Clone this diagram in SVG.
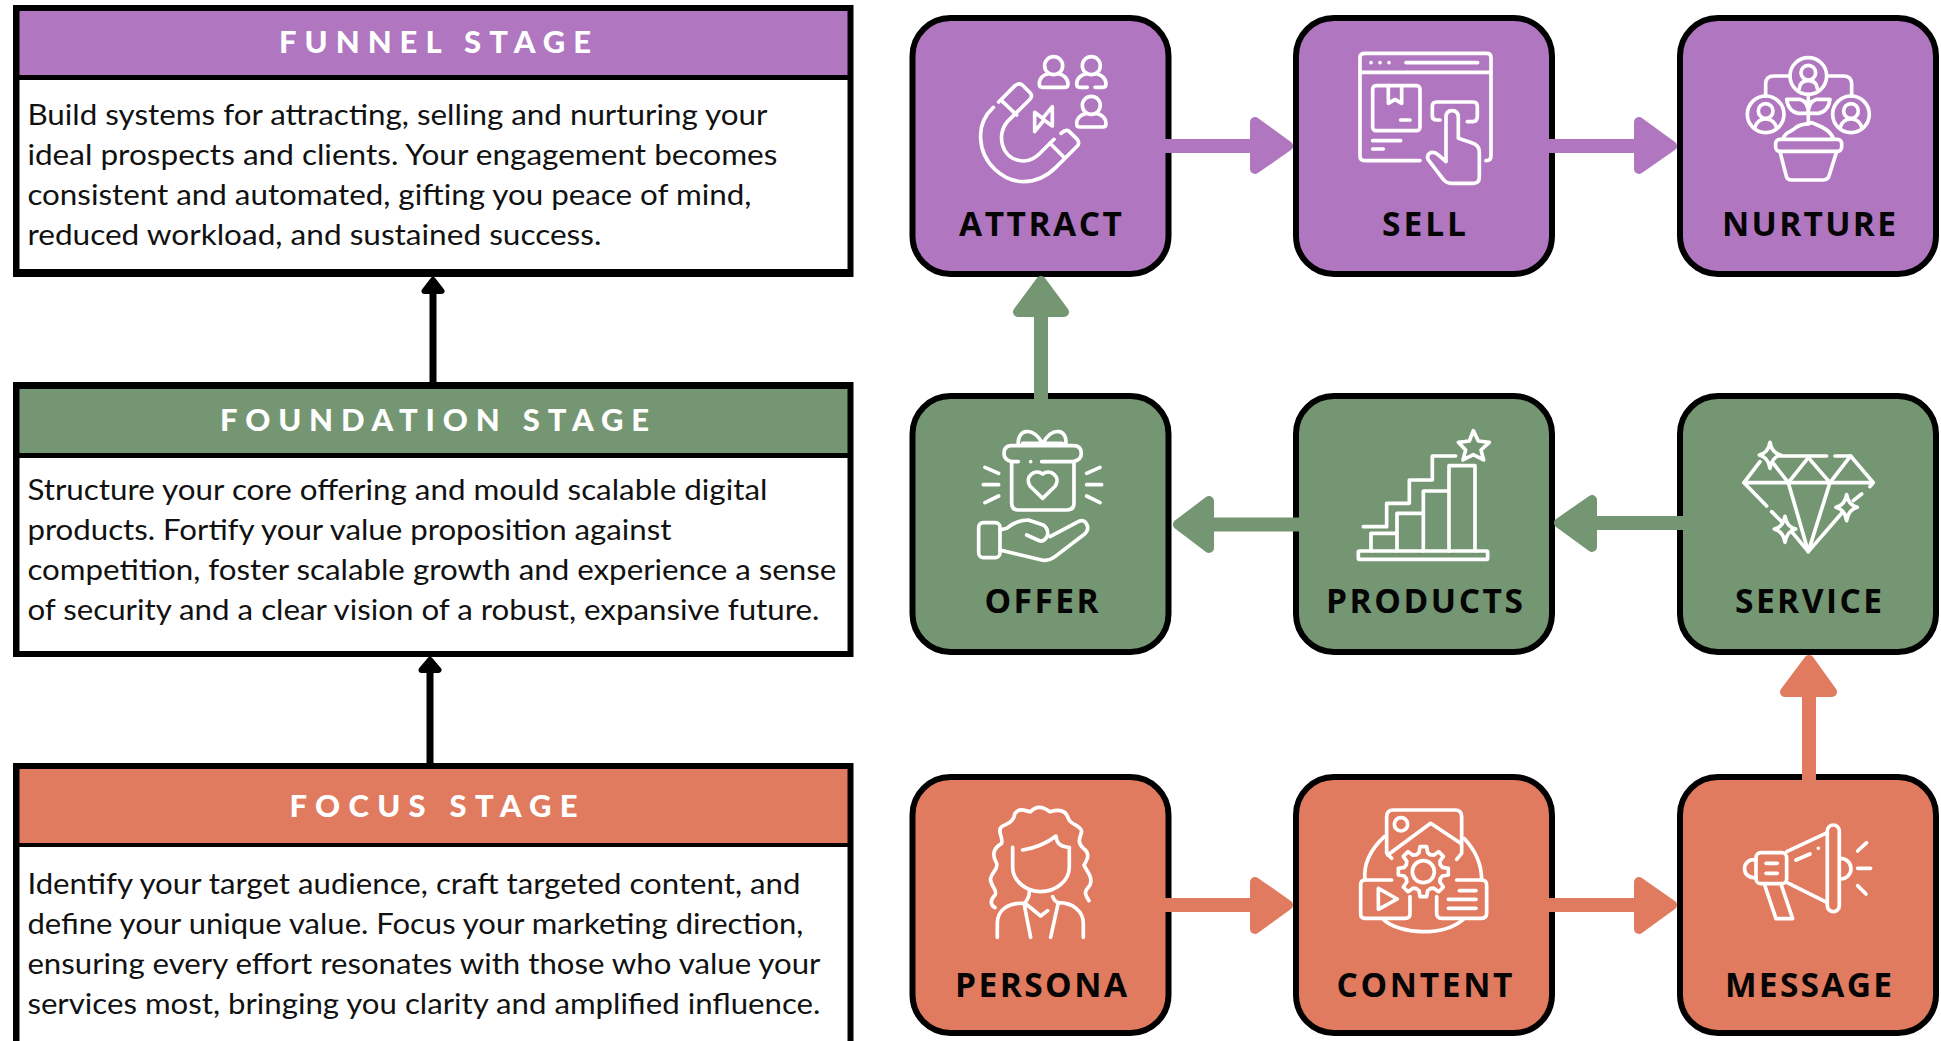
<svg xmlns="http://www.w3.org/2000/svg" xmlns:xlink="http://www.w3.org/1999/xlink" width="1941" height="1041" viewBox="0 0 1941 1041">
<style>
.pur{fill:#b076bf}.grn{fill:#749672}.cor{fill:#e17b5f}
.npur,.ngrn,.ncor{stroke:#000;stroke-width:6}
.npur{fill:#b076bf}.ngrn{fill:#749672}.ncor{fill:#e17b5f}
.lbl{font-family:"Open Sans","Liberation Sans",sans-serif;font-weight:700;font-size:33.500px;fill:#050505}
.hd{font-family:Lato,"Liberation Sans",sans-serif;font-weight:900;font-size:31px;fill:#fff}
.bd{font-family:Lato,"Liberation Sans",sans-serif;font-size:29px;fill:#111}
.ic{fill:none;stroke:#fff;stroke-width:11;stroke-linecap:round;stroke-linejoin:round}
.hp{stroke:#b076bf;fill:#b076bf}.hg{stroke:#749672;fill:#749672}.hc{stroke:#e17b5f;fill:#e17b5f}
.s{fill:none;stroke-width:14}.h{stroke-width:10;stroke-linejoin:round}
</style>
<defs>
<path id="tooth" d="M-21-51L-13-57L-10-75L10-75L13-57L21-51"/>
<path id="spark" d="M0-38Q5-6 32 0Q5 7 0 40Q-5 7-32 0Q-5-6 0-38Z"/>
</defs>
<rect width="1941" height="1041" fill="#fff"/>

<g id="panel-funnel">
<rect x="13" y="5" width="840.500" height="272" fill="#000"/>
<rect x="19.500" y="11" width="828" height="64" class="pur"/>
<rect x="19.500" y="80" width="828" height="189" fill="#fff"/>
<text class="hd" x="279" y="53" textLength="312">FUNNEL STAGE</text>
<text class="bd" x="27.400" y="125" textLength="740" lengthAdjust="spacingAndGlyphs">Build systems for attracting, selling and nurturing your</text>
<text class="bd" x="27.400" y="165" textLength="750" lengthAdjust="spacingAndGlyphs">ideal prospects and clients. Your engagement becomes</text>
<text class="bd" x="27.400" y="205" textLength="724" lengthAdjust="spacingAndGlyphs">consistent and automated, gifting you peace of mind,</text>
<text class="bd" x="27.400" y="245" textLength="574" lengthAdjust="spacingAndGlyphs">reduced workload, and sustained success.</text>
</g>
<g id="panel-foundation">
<rect x="13" y="382" width="840.500" height="275" fill="#000"/>
<rect x="19.500" y="389" width="828" height="64" class="grn"/>
<rect x="19.500" y="458" width="828" height="193" fill="#fff"/>
<text class="hd" x="220" y="431" textLength="429">FOUNDATION STAGE</text>
<text class="bd" x="27.400" y="500" textLength="740" lengthAdjust="spacingAndGlyphs">Structure your core offering and mould scalable digital</text>
<text class="bd" x="27.400" y="540" textLength="644" lengthAdjust="spacingAndGlyphs">products. Fortify your value proposition against</text>
<text class="bd" x="27.400" y="580" textLength="809" lengthAdjust="spacingAndGlyphs">competition, foster scalable growth and experience a sense</text>
<text class="bd" x="27.400" y="620" textLength="792" lengthAdjust="spacingAndGlyphs">of security and a clear vision of a robust, expansive future.</text>
</g>
<g id="panel-focus">
<rect x="13" y="763" width="840.500" height="278" fill="#000"/>
<rect x="19.500" y="769" width="828" height="74" class="cor"/>
<rect x="19.500" y="847" width="828" height="194" fill="#fff"/>
<text class="hd" x="289.500" y="817" textLength="288">FOCUS STAGE</text>
<text class="bd" x="27.400" y="894" textLength="773" lengthAdjust="spacingAndGlyphs">Identify your target audience, craft targeted content, and</text>
<text class="bd" x="27.400" y="934" textLength="776" lengthAdjust="spacingAndGlyphs">define your unique value. Focus your marketing direction,</text>
<text class="bd" x="27.400" y="974" textLength="793" lengthAdjust="spacingAndGlyphs">ensuring every effort resonates with those who value your</text>
<text class="bd" x="27.400" y="1014" textLength="793" lengthAdjust="spacingAndGlyphs">services most, bringing you clarity and amplified influence.</text>
</g>

<g id="attract">
<rect class="npur" x="912.500" y="18" width="256" height="256" rx="38"/>
<g class="ic" transform="translate(900,0) scale(.3333)">
<circle cx="461" cy="197" r="27"/><path d="M430 262H495Q504 262 504 252C504 235 490 224 478 222M444 222C430 224 418 235 418 252Q418 262 428 262"/>
<circle cx="574" cy="197" r="27"/><path d="M562 262H540Q530 262 530 252C530 235 544 224 557 222M591 222C604 224 618 235 618 252Q618 262 608 262H585"/>
<circle cx="574" cy="316" r="27"/><path d="M540 381H608Q618 381 618 371C618 354 604 343 591 341M557 341C544 343 530 354 530 371Q530 381 540 381"/>
<path d="M280 322C250 350 240 385 242 415C245 490 310 545 372 545C410 545 445 525 470 500L532 438Q540 428 532 418L505 392Q497 388 483 400"/>
<path d="M296 306L345 257Q356 248 367 255L392 280Q398 290 390 298L322 365C290 400 300 480 370 483C395 483 410 470 420 460L462 418"/>
<path d="M308 305L350 345M450 430L492 472"/>
<path d="M404 395V337L428 355L457 320V378L432 360Z"/>
</g>
<text class="lbl" x="959" y="236" textLength="163">ATTRACT</text>
</g>
<g id="sell">
<rect class="npur" x="1296" y="18" width="256" height="256" rx="38"/>
<g class="ic" transform="translate(1340,40) scale(.3333)">
<path d="M240 362H75Q60 362 60 348V52Q60 40 75 40H440Q453 40 453 52V348Q453 362 438 362"/>
<path d="M60 97H453M198 68H413M182 240H210M98 302H182M98 327H130"/>
<path d="M93 68h.1M120 68h.1M147 68h.1"/>
<rect x="98" y="137" width="142" height="135" rx="10"/>
<path d="M145 137V190L165 178L185 190V137"/>
<path d="M300 240H290Q277 240 277 228V200Q277 186 290 186H400Q412 186 412 200V228Q412 245 398 245H382"/>
<path d="M318 365V232Q318 212 336 212Q355 212 355 232V295L395 308Q418 315 418 335V412Q418 430 400 430H335Q318 430 310 418L265 360Q258 345 272 338Q285 335 295 345Z"/>
</g>
<text class="lbl" x="1382" y="236" textLength="84">SELL</text>
</g>
<g id="nurture">
<rect class="npur" x="1680" y="18" width="256" height="256" rx="38"/>
<g class="ic" transform="translate(1640,0) scale(.3333)">
<circle cx="505" cy="228" r="55"/><circle cx="505" cy="218" r="22"/><path d="M478 266Q480 242 505 242Q530 242 532 266"/>
<circle cx="377" cy="343" r="55"/><circle cx="377" cy="333" r="22"/><path d="M345 382Q352 357 377 357Q402 357 409 382"/>
<circle cx="633" cy="343" r="55"/><circle cx="633" cy="333" r="22"/><path d="M601 382Q608 357 633 357Q658 357 665 382"/>
<path d="M377 288V252Q377 228 402 228H450M560 228H610Q635 228 635 252V288"/>
<path d="M505 283V372M505 340H475Q445 335 440 298H480Q505 305 505 340ZM505 340H535Q565 335 570 298H530Q505 305 505 340Z"/>
<rect x="407" y="418" width="198" height="36" rx="12"/>
<path d="M430 415C435 395 455 395 465 385C480 370 500 375 515 368C530 375 570 385 580 415"/>
<path d="M420 455L438 525Q440 540 455 540H550Q565 540 568 525L590 455"/>
</g>
<text class="lbl" x="1722" y="236" textLength="174">NURTURE</text>
</g>
<g id="offer">
<rect class="ngrn" x="912.500" y="396" width="256" height="256" rx="38"/>
<g class="ic" transform="translate(900,380) scale(.3333)">
<path d="M355 195C350 150 395 135 428 190C460 135 505 150 497 195M368 190L428 190L487 190"/>
<path d="M355 245H335Q312 240 312 220Q312 197 335 197H520Q544 197 544 220Q544 240 520 245H425M392 245h.1"/>
<path d="M335 245V370Q335 390 355 390H500Q522 390 522 370V245"/>
<path d="M428 355L390 318C372 290 405 265 428 282C451 265 484 290 466 318Z"/>
<path d="M255 262L296 280M250 314H296M255 368L296 348M600 262L560 280M560 314H605M600 368L560 348"/>
<rect x="236" y="428" width="64" height="105" rx="14"/>
<path d="M300 450L320 445C345 425 365 420 385 420L430 435Q445 445 443 465Q435 485 420 483L380 465"/>
<path d="M450 470L535 425Q555 415 563 440Q565 455 550 465L465 530Q445 545 425 540L300 510"/>
</g>
<text class="lbl" x="984.500" y="613" textLength="114">OFFER</text>
</g>
<g id="products">
<rect class="ngrn" x="1296" y="396" width="256" height="256" rx="38"/>
<g class="ic" transform="translate(1340,420) scale(.3333)">
<rect x="55" y="393" width="388" height="25" rx="3"/>
<path d="M93 393V340H171M171 393V280H250M250 393V213H327M327 393V137H405V393"/>
<path d="M70 320H140V250H208V180H277V108H347"/>
<path d="M400 32L415 63L448 67L423 90L431 120L400 104L369 120L377 90L355 67L388 63Z"/>
</g>
<text class="lbl" x="1326" y="613" textLength="197">PRODUCTS</text>
</g>
<g id="service">
<rect class="ngrn" x="1680" y="396" width="256" height="256" rx="38"/>
<g class="ic" transform="translate(1540,380) scale(.3333)">
<path d="M860 228H720M885 228H932L1000 308L990 320M612 308L660 245M612 308H1000"/>
<path d="M805 233L745 308M805 233L870 308M932 228L870 308M700 250L745 308M745 308L805 515L870 308"/>
<path d="M805 515L905 400M940 362L965 342M612 308L680 378M695 395L725 425M755 455L805 515"/>
<use xlink:href="#spark" href="#spark" x="690" y="225"/>
<use xlink:href="#spark" href="#spark" x="920" y="382"/>
<use xlink:href="#spark" href="#spark" x="735" y="447"/>
</g>
<text class="lbl" x="1735" y="613" textLength="147">SERVICE</text>
</g>
<g id="persona">
<rect class="ncor" x="912.500" y="777" width="256" height="256" rx="38"/>
<g class="ic" transform="translate(900,760) scale(.3333)">
<path d="M285 443C270 435 270 420 285 405C295 390 268 375 272 355C275 335 295 330 290 310C275 285 280 265 305 250C310 230 290 215 305 200C320 190 340 190 345 160C360 140 380 155 392 155C410 135 430 140 450 155C470 150 495 145 505 175C510 195 545 195 545 215C540 235 530 245 550 265C570 280 565 295 552 315C560 335 580 350 570 375C555 395 550 395 567 422"/>
<path d="M338 262V320C338 365 380 395 422 395C465 395 508 365 508 320V262C480 260 470 250 468 228C440 250 400 265 368 270"/>
<path d="M388 395C388 410 380 425 372 430C330 428 292 445 292 490V532M372 430L392 532M378 432L422 468L443 452M458 410Q465 425 475 428L452 532M475 428C520 428 550 455 550 490V532"/>
</g>
<text class="lbl" x="955" y="997" textLength="172">PERSONA</text>
</g>
<g id="content">
<rect class="ncor" x="1296" y="777" width="256" height="256" rx="38"/>
<g class="ic" transform="translate(1340,800) scale(.3333)">
<path d="M155 175L140 160V50Q140 30 160 30H345Q365 30 365 50V160L350 178"/>
<path d="M143 165L272 70L362 130"/><circle cx="183" cy="73" r="20"/>
<path d="M133 110C90 150 70 195 75 240M130 358C180 405 310 410 370 358M372 115C405 150 425 195 425 240"/>
<circle cx="250" cy="215" r="33"/>
<g transform="translate(250,215)"><use xlink:href="#tooth" href="#tooth"/><use xlink:href="#tooth" href="#tooth" transform="rotate(45)"/><use xlink:href="#tooth" href="#tooth" transform="rotate(90)"/><use xlink:href="#tooth" href="#tooth" transform="rotate(135)"/><use xlink:href="#tooth" href="#tooth" transform="rotate(180)"/><use xlink:href="#tooth" href="#tooth" transform="rotate(225)"/><use xlink:href="#tooth" href="#tooth" transform="rotate(270)"/><use xlink:href="#tooth" href="#tooth" transform="rotate(315)"/></g>
<path d="M155 240H75Q62 240 62 255V342Q62 355 75 355H195Q210 355 210 342V290M115 265V328L172 297Z"/>
<path d="M350 240H425Q440 240 440 255V340Q440 355 425 355H305Q290 355 290 340V290M358 272H408M325 298H408M325 325H408"/>
</g>
<text class="lbl" x="1336.500" y="997" textLength="176">CONTENT</text>
</g>
<g id="message">
<rect class="ncor" x="1680" y="777" width="256" height="256" rx="38"/>
<g class="ic" transform="translate(1540,680) scale(.3333)">
<path d="M648 540A27 27 0 1 0 648 592"/>
<rect x="648" y="518" width="92" height="93" rx="15"/>
<path d="M678 550H712M678 580H712M740 515L862 458M740 607L862 668"/>
<rect x="862" y="435" width="36" height="260" rx="18"/>
<path d="M902 535A31 31 0 0 1 902 597M768 540L810 522M835 505h.1"/>
<path d="M675 618L708 716H758L725 618"/>
<path d="M953 513L980 488M953 565H992M953 617L978 642"/>
</g>
<text class="lbl" x="1725" y="997" textLength="167">MESSAGE</text>
</g>

<g id="connectors">
<path d="M433 382V290" fill="none" stroke="#000" stroke-width="7"/>
<path d="M424.500 291L433 280L441.500 291Z" fill="#000" stroke="#000" stroke-width="6" stroke-linejoin="round"/>
<path d="M430 763V670" fill="none" stroke="#000" stroke-width="7"/>
<path d="M421.500 670L430 660L438.500 670Z" fill="#000" stroke="#000" stroke-width="6" stroke-linejoin="round"/>

<path class="s hp" d="M1165 146H1256"/><path class="h hp" d="M1255 122V169L1288 146Z"/>
<path class="s hp" d="M1549 146H1640"/><path class="h hp" d="M1639 122V169L1672 146Z"/>
<path class="s hg" d="M1300 524.500H1208"/><path class="h hg" d="M1209 501V548L1178 524.500Z"/>
<path class="s hg" d="M1683 523H1590"/><path class="h hg" d="M1592 500V547L1559 523Z"/>
<path class="s hc" d="M1165 905H1256"/><path class="h hc" d="M1255 882V929L1288 905Z"/>
<path class="s hc" d="M1549 905H1640"/><path class="h hc" d="M1639 882V929L1672 905Z"/>
<path class="s hg" d="M1041 399V310"/><path class="h hg" d="M1018 312H1064L1041 281Z"/>
<path class="s hc" d="M1809 780V690"/><path class="h hc" d="M1785 692H1832L1809 660Z"/>
</g>
</svg>
